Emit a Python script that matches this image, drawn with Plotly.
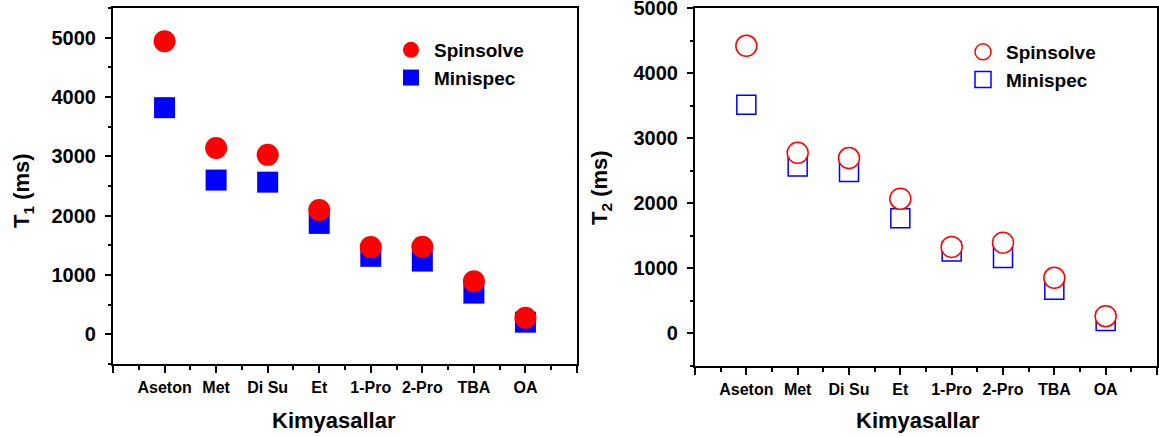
import plotly.graph_objects as go

categories = ["Aseton", "Met", "Di Su", "Et", "1-Pro", "2-Pro", "TBA", "OA"]
cat_pos = [1, 2, 3, 4, 5, 6, 7, 8]

t1_spinsolve = [4940, 3140, 3025, 2095, 1470, 1475, 895, 280]
t1_minispec = [3820, 2600, 2565, 1870, 1315, 1235, 695, 205]

t2_spinsolve = [4420, 2775, 2695, 2070, 1330, 1395, 855, 265]
t2_minispec = [3515, 2565, 2480, 1770, 1260, 1160, 670, 190]

y_ticks = [0, 1000, 2000, 3000, 4000, 5000]
x_ticktext = [""] + categories + [""]

W, H = 1159, 437
FONT = "Liberation Sans, Arial, sans-serif"
RED = "#ff0000"
BLUE = "#0000ff"


def px(x):
    return x / W


def py(y):
    return 1 - y / H


fig = go.Figure()

# Left panel (T1): filled symbols
fig.add_trace(go.Scatter(x=cat_pos, y=t1_minispec, mode="markers", name="Minispec",
                         marker=dict(symbol="square", size=21, color=BLUE),
                         xaxis="x", yaxis="y", legend="legend", legendrank=2))
fig.add_trace(go.Scatter(x=cat_pos, y=t1_spinsolve, mode="markers", name="Spinsolve",
                         marker=dict(symbol="circle", size=22, color=RED),
                         xaxis="x", yaxis="y", legend="legend", legendrank=1))

# Right panel (T2): open symbols
fig.add_trace(go.Scatter(x=cat_pos, y=t2_minispec, mode="markers", name="Minispec",
                         marker=dict(symbol="square", size=19, color="white",
                                     line=dict(color=BLUE, width=1.5)),
                         xaxis="x2", yaxis="y2", legend="legend2", legendrank=2))
fig.add_trace(go.Scatter(x=cat_pos, y=t2_spinsolve, mode="markers", name="Spinsolve",
                         marker=dict(symbol="circle", size=21, color="white",
                                     line=dict(color=RED, width=1.5)),
                         xaxis="x2", yaxis="y2", legend="legend2", legendrank=1))

axis_common = dict(showline=True, linecolor="black", linewidth=2.2, mirror=True,
                   showgrid=False, zeroline=False, automargin=False,
                   tickcolor="black", tickwidth=2, ticks="outside",
                   ticklabeloverflow="allow")

xcommon = dict(axis_common, range=[0, 9], tickmode="array",
               tickvals=list(range(10)), ticktext=x_ticktext, ticklen=7,
               ticklabelstandoff=1,
               tickfont=dict(family=FONT, size=16, color="black", weight="bold"),
               minor=dict(ticks="outside", ticklen=4, tickwidth=2, tickcolor="black",
                          tickvals=[i + 0.5 for i in range(9)]))

ycommon = dict(axis_common, tickmode="array", tickvals=y_ticks, ticklen=6,
               ticklabelstandoff=5,
               tickfont=dict(family=FONT, size=20, color="black", weight="bold"),
               minor=dict(ticks="outside", ticklen=3, tickwidth=2, tickcolor="black",
                          dtick=500))

legend_font = dict(family=FONT, size=19, color="black", weight="bold")

fig.update_layout(
    width=W, height=H,
    margin=dict(l=0, r=0, t=0, b=0),
    paper_bgcolor="white", plot_bgcolor="white",
    font=dict(family=FONT, color="black"),
    xaxis=dict(xcommon, domain=[px(113), px(577)], anchor="y"),
    yaxis=dict(ycommon, domain=[py(364), py(8)], range=[-500, 5500], anchor="x"),
    xaxis2=dict(xcommon, domain=[px(695), px(1157)], anchor="y2"),
    yaxis2=dict(ycommon, domain=[py(366), py(8)], range=[-500, 5000.5], anchor="x2"),
    legend=dict(x=px(388), y=py(31), xanchor="left", yanchor="top",
                itemwidth=36, bgcolor="rgba(0,0,0,0)", font=legend_font),
    legend2=dict(x=px(960), y=py(33), xanchor="left", yanchor="top",
                 itemwidth=36, bgcolor="rgba(0,0,0,0)", font=legend_font),
    annotations=[
        dict(text="Kimyasallar", x=px(334), y=py(420), xref="paper", yref="paper",
             showarrow=False, xanchor="center", yanchor="middle",
             font=dict(family=FONT, size=22, color="black", weight="bold")),
        dict(text="Kimyasallar", x=px(918), y=py(420), xref="paper", yref="paper",
             showarrow=False, xanchor="center", yanchor="middle",
             font=dict(family=FONT, size=22, color="black", weight="bold")),
        dict(text="T<sub>1</sub> (ms)", x=px(23), y=py(191), xref="paper", yref="paper",
             showarrow=False, xanchor="center", yanchor="middle", textangle=-90,
             font=dict(family=FONT, size=22, color="black", weight="bold")),
        dict(text="T<sub>2</sub> (ms)", x=px(601), y=py(188), xref="paper", yref="paper",
             showarrow=False, xanchor="center", yanchor="middle", textangle=-90,
             font=dict(family=FONT, size=22, color="black", weight="bold")),
    ],
)

fig.write_html("out.html", config={"displayModeBar": False},
               post_script="document.body.style.margin='0px';document.body.style.overflow='hidden';")
